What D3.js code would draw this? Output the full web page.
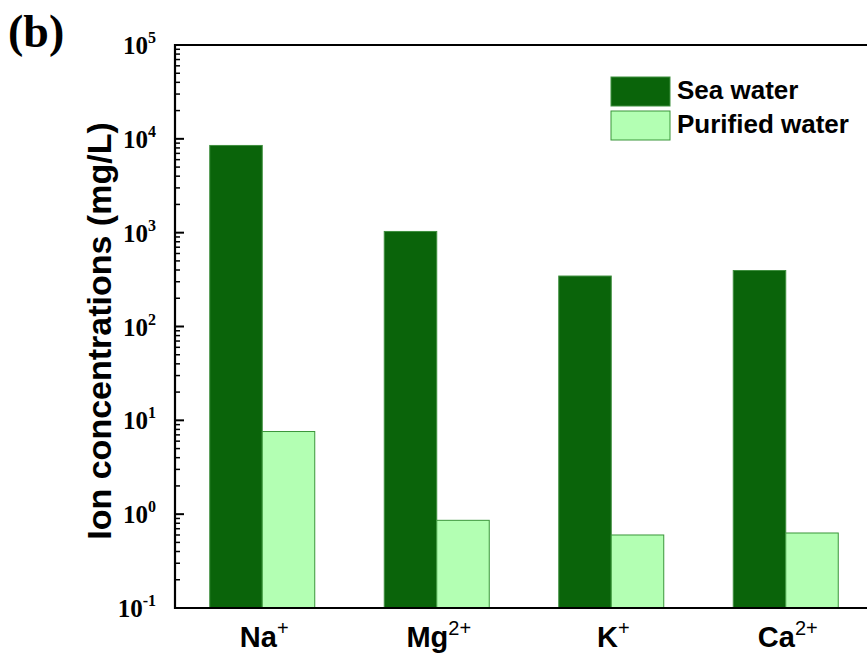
<!DOCTYPE html>
<html>
<head>
<meta charset="utf-8">
<script src="https://cdn.jsdelivr.net/npm/d3@7/dist/d3.min.js"></script>
<style>
  body { margin: 0; background: #fff; }
  svg { display: block; }
</style>
</head>
<body>
<svg id="chart" width="867" height="659"></svg>
<script>
// ---- data ----
const ionBase = ["Na", "Mg", "K", "Ca"];
const ionCharge = ["+", "2+", "+", "2+"];
const seriesNames = ["Sea water", "Purified water"];
const seaWater = [8500, 1030, 345, 395];
const purifiedWater = [7.6, 0.86, 0.60, 0.63];
const yTickExponents = [-1, 0, 1, 2, 3, 4, 5];

(function () {
const seriesValues = [seaWater, purifiedWater];
const colors = ["#0a640a", "#b3ffb3"];
const strokes = ["#3f8f3f", "#3a963a"];

const svg = d3.select("#chart");
const pl = 175, pr = 873, pt = 45, pb = 608;

const y = d3.scaleLog().domain([0.1, 1e5]).range([pb, pt]);
const x0 = d3.scaleBand().domain(ionBase).range([pl, pr]).padding(0);
const groupW = 105;
const x1 = d3.scaleBand().domain(seriesNames).range([0, groupW]).padding(0);
const offset = (x0.bandwidth() - groupW) / 2;

// bars
ionBase.forEach((ion, i) => {
  seriesNames.forEach((s, j) => {
    const v = seriesValues[j][i];
    svg.append("rect")
      .attr("x", x0(ion) + offset + x1(s))
      .attr("y", y(v))
      .attr("width", x1.bandwidth())
      .attr("height", y(0.1) - y(v))
      .attr("fill", colors[j])
      .attr("stroke", strokes[j])
      .attr("stroke-width", 1);
  });
});

// y axis ticks (inward)
const majors = yTickExponents.map(e => Math.pow(10, e));
const minors = [];
for (let e = -1; e < 5; e++) for (let m = 2; m <= 9; m++) minors.push(m * Math.pow(10, e));

const axisG = svg.append("g");
axisG.selectAll("line.minor").data(minors).enter().append("line")
  .attr("x1", pl).attr("x2", pl + 5)
  .attr("y1", d => y(d)).attr("y2", d => y(d))
  .attr("stroke", "#000").attr("stroke-width", 1.5);
axisG.selectAll("line.major").data(majors).enter().append("line")
  .attr("x1", pl).attr("x2", pl + 9)
  .attr("y1", d => y(d)).attr("y2", d => y(d))
  .attr("stroke", "#000").attr("stroke-width", 2);

// frame lines
svg.append("line").attr("x1", pl).attr("x2", pl).attr("y1", pt - 1).attr("y2", pb + 1)
  .attr("stroke", "#000").attr("stroke-width", 2.2);
svg.append("line").attr("x1", pl - 1).attr("x2", 867).attr("y1", pb).attr("y2", pb)
  .attr("stroke", "#000").attr("stroke-width", 2.2);
svg.append("line").attr("x1", pl - 1).attr("x2", 867).attr("y1", pt).attr("y2", pt)
  .attr("stroke", "#000").attr("stroke-width", 2.2);

// y tick labels
yTickExponents.forEach(e => {
  const t = svg.append("text")
    .attr("x", 156).attr("y", y(Math.pow(10, e)) + 9)
    .attr("text-anchor", "end")
    .attr("font-family", "'Liberation Serif', 'Times New Roman', serif")
    .attr("font-weight", "bold")
    .attr("font-size", 25)
    .attr("fill", "#000");
  t.append("tspan").text("10");
  t.append("tspan").attr("font-size", 16).attr("dy", -11).text(String(e));
});

// x labels
ionBase.forEach((ion, i) => {
  const t = svg.append("text")
    .attr("x", x0(ion) + x0.bandwidth() / 2 + 2).attr("y", 647)
    .attr("text-anchor", "middle")
    .attr("font-family", "'Liberation Sans', Arial, sans-serif")
    .attr("font-weight", "bold")
    .attr("font-size", 29)
    .attr("fill", "#000");
  t.append("tspan").text(ion);
  t.append("tspan").attr("font-size", 20).attr("font-weight", "normal").attr("dy", -12).text(ionCharge[i]);
});

// y title
svg.append("text")
  .attr("transform", "translate(111,331) rotate(-90)")
  .attr("text-anchor", "middle")
  .attr("font-family", "'Liberation Sans', Arial, sans-serif")
  .attr("font-weight", "bold")
  .attr("font-size", 34)
  .attr("fill", "#000")
  .text("Ion concentrations (mg/L)");

// panel label
svg.append("text")
  .attr("x", 8).attr("y", 47)
  .attr("font-family", "'Liberation Serif', 'Times New Roman', serif")
  .attr("font-weight", "bold")
  .attr("font-size", 46)
  .attr("fill", "#000")
  .text("(b)");

// legend
seriesNames.forEach((s, j) => {
  const yy = 77 + j * 34;
  svg.append("rect")
    .attr("x", 611).attr("y", yy).attr("width", 59).attr("height", 29)
    .attr("fill", colors[j]).attr("stroke", strokes[j]).attr("stroke-width", 1);
  svg.append("text")
    .attr("x", 677).attr("y", yy + 22)
    .attr("font-family", "'Liberation Sans', Arial, sans-serif")
    .attr("font-weight", "bold")
    .attr("font-size", 26)
    .attr("fill", "#000")
    .text(s);
});
})();
</script>
</body>
</html>
